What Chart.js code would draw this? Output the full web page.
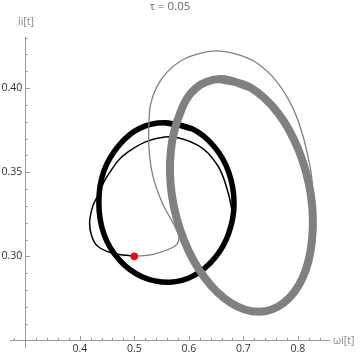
<!DOCTYPE html>
<html>
<head>
<meta charset="utf-8">
<script src="https://cdn.jsdelivr.net/npm/chart.js@4.4.1/dist/chart.umd.min.js"></script>
<style>
  html, body { margin: 0; padding: 0; background: #fff; }
  #wrap { width: 360px; height: 358px; position: relative; }
</style>
</head>
<body>
<div id="wrap"><canvas id="chart"></canvas></div>
<script>
// trajectories (omega_i, l_i)
const startPoint = [0.5, 0.30];

const blackTransX = [0.5, 0.459, 0.433, 0.422, 0.418, 0.424, 0.433, 0.451, 0.488, 0.556, 0.617, 0.653, 0.672, 0.681];
const blackTransY = [0.300, 0.302, 0.306, 0.312, 0.320, 0.330, 0.336, 0.348, 0.362, 0.371, 0.366, 0.354, 0.338, 0.324];

const blackCycleX = [0.556, 0.606, 0.646, 0.673, 0.683, 0.673, 0.648, 0.609, 0.565, 0.514, 0.472, 0.444, 0.435, 0.444, 0.472, 0.510, 0.556, 0.606];
const blackCycleY = [0.3794, 0.3758, 0.3654, 0.3502, 0.3314, 0.3135, 0.2992, 0.2885, 0.2846, 0.2879, 0.2980, 0.3135, 0.3320, 0.3505, 0.3660, 0.3761, 0.3794, 0.3758];

const grayTransX = [0.5, 0.532, 0.574, 0.582, 0.574, 0.551, 0.534, 0.527, 0.527, 0.530, 0.541, 0.560, 0.585, 0.617, 0.650, 0.686, 0.725, 0.762, 0.791, 0.809, 0.822, 0.826, 0.828];
const grayTransY = [0.300, 0.301, 0.306, 0.311, 0.318, 0.332, 0.348, 0.364, 0.380, 0.3905, 0.4006, 0.4095, 0.4161, 0.4203, 0.4221, 0.4203, 0.4149, 0.4036, 0.3881, 0.3720, 0.3541, 0.3451, 0.3332];

const grayCycleX = [0.659, 0.712, 0.764, 0.802, 0.824, 0.826, 0.809, 0.774, 0.728, 0.677, 0.629, 0.591, 0.569, 0.567, 0.584, 0.613, 0.659, 0.712];
const grayCycleY = [0.4054, 0.4006, 0.3851, 0.3627, 0.3362, 0.3097, 0.2873, 0.2723, 0.2670, 0.2723, 0.2873, 0.3097, 0.3362, 0.3627, 0.3851, 0.4000, 0.4054, 0.4006];

const xTicks = [0.4, 0.5, 0.6, 0.7, 0.8];
const yTicks = [0.30, 0.35, 0.40];
const titleText = 'τ = 0.05';
const xTitle = 'ωi[t]';
const yTitle = 'li[t]';

const AXIS_X = 0.3, AXIS_Y = 0.25;

function pts(xs, ys) {
    return xs.map((x, i) => ({ x: x, y: ys[i] }));
}

function line(data, color, width, order) {
    return {
        data: data,
        showLine: true,
        borderColor: color,
        borderWidth: width,
        borderJoinStyle: 'round',
        pointRadius: 0,
        tension: 0.38,
        fill: false,
        order: order
    };
}

// axes through (0.3, 0.25) in the Mathematica style
const axesPlugin = {
    id: 'axes',
    afterDraw(chart) {
        const ctx = chart.ctx;
        const xs = chart.scales.x, ys = chart.scales.y;
        const ax = xs.getPixelForValue(AXIS_X);
        const ay = ys.getPixelForValue(AXIS_Y);
        ctx.save();
        ctx.strokeStyle = '#999';
        ctx.lineWidth = 1;
        ctx.beginPath();
        ctx.moveTo(xs.left, Math.round(ay) + 0.5);
        ctx.lineTo(xs.right, Math.round(ay) + 0.5);
        ctx.moveTo(Math.round(ax) + 0.5, ys.top);
        ctx.lineTo(Math.round(ax) + 0.5, ys.bottom);
        // x ticks every 0.02
        for (let k = 14; k <= 42; k++) {
            const px = Math.round(xs.getPixelForValue(k / 50)) + 0.5;
            const major = k % 5 === 0;
            ctx.moveTo(px, ay);
            ctx.lineTo(px, ay - (major ? 4.5 : 2.5));
        }
        // y ticks every 0.01
        for (let k = 25; k <= 43; k++) {
            const py = Math.round(ys.getPixelForValue(k / 100)) + 0.5;
            const major = k % 5 === 0;
            ctx.moveTo(ax, py);
            ctx.lineTo(ax + (major ? 4.5 : 2.5), py);
        }
        ctx.stroke();

        ctx.fillStyle = '#333';
        ctx.font = '10.5px "Open Sans"';
        ctx.textAlign = 'center';
        ctx.textBaseline = 'top';
        xTicks.forEach(v => {
            ctx.fillText(v.toFixed(1), xs.getPixelForValue(v), ay + 3);
        });
        ctx.textAlign = 'right';
        ctx.textBaseline = 'middle';
        yTicks.forEach(v => {
            ctx.fillText(v.toFixed(2), ax - 3, ys.getPixelForValue(v));
        });

        ctx.fillStyle = '#888';
        ctx.textAlign = 'left';
        ctx.fillText(xTitle, 333, ay + 1);
        ctx.textAlign = 'center';
        ctx.fillText(yTitle, 26, 22);
        ctx.fillStyle = '#666';
        ctx.font = '11.5px "Open Sans"';
        ctx.fillText(titleText, 170, 7);
        ctx.restore();
    }
};

new Chart(document.getElementById('chart'), {
    type: 'scatter',
    data: {
        datasets: [
            line(pts(blackTransX, blackTransY), '#000', 1.5, 4),
            line(pts(blackCycleX, blackCycleY), '#000', 5.5, 3),
            line(pts(grayTransX, grayTransY), '#808080', 1.3, 2),
            line(pts(grayCycleX, grayCycleY), '#808080', 8, 1),
            {
                data: [{ x: startPoint[0], y: startPoint[1] }],
                pointRadius: 3.8,
                pointBackgroundColor: '#ff0000',
                pointBorderWidth: 0,
                order: 0
            }
        ]
    },
    plugins: [axesPlugin],
    options: {
        responsive: true,
        maintainAspectRatio: false,
        animation: false,
        layout: { padding: { left: 10, right: 30, top: 37, bottom: 10 } },
        plugins: {
            legend: { display: false },
            tooltip: { enabled: false }
        },
        scales: {
            x: { type: 'linear', min: 0.272, max: 0.859, display: false },
            y: { type: 'linear', min: 0.2455, max: 0.4304, display: false }
        }
    }
});
</script>
</body>
</html>
